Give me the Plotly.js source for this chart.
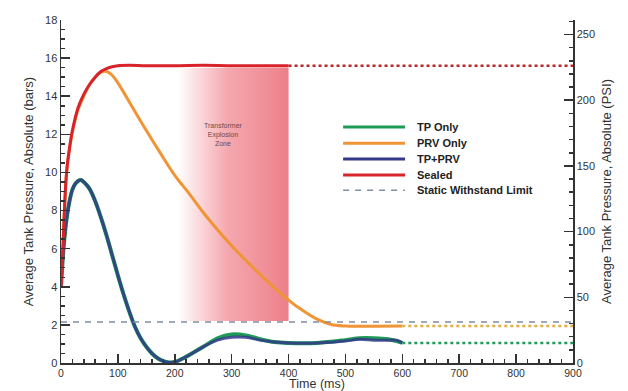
<!DOCTYPE html>
<html>
<head>
<meta charset="utf-8">
<script src="https://cdn.plot.ly/plotly-3.0.1.min.js"></script>
<style>
  html, body { margin: 0; padding: 0; background: #fff; }
  #chart { width: 628px; height: 391px; }
</style>
</head>
<body>
<div id="chart"></div>
<script>
// Time axis (ms) for each simulated configuration
const tSealed = [0, 3, 6, 10, 15, 20, 30, 40, 50, 60, 70, 80, 90, 100, 120, 150, 200, 250, 300, 350, 400];
const pSealed = [4.0, 5.7, 8.0, 10.1, 11.3, 12.2, 13.4, 14.1, 14.6, 15.0, 15.3, 15.45, 15.55, 15.6, 15.62, 15.6, 15.6, 15.62, 15.6, 15.6, 15.6];

const tPrv = [0, 3, 6, 10, 15, 20, 30, 40, 50, 60, 70, 80, 90, 100, 125, 150, 175, 200, 225, 250, 300, 350, 400, 425, 450, 475, 500, 550, 600];
const pPrv = [4.0, 5.7, 8.0, 10.0, 11.2, 12.1, 13.3, 14.0, 14.6, 15.0, 15.25, 15.3, 15.1, 14.7, 13.45, 12.2, 11.0, 9.85, 8.9, 7.9, 6.15, 4.65, 3.3, 2.75, 2.3, 2.02, 1.94, 1.93, 1.94];

const tTp = [0, 5, 10, 15, 20, 25, 30, 35, 40, 50, 60, 70, 80, 90, 100, 110, 120, 130, 140, 150, 160, 170, 180, 190, 200, 215, 230, 250, 275, 300, 325, 350, 375, 400, 450, 500, 525, 550, 575, 590, 600];
const pTpOnly = [4.0, 6.2, 7.6, 8.5, 9.1, 9.4, 9.55, 9.6, 9.5, 9.15, 8.5, 7.65, 6.7, 5.65, 4.6, 3.6, 2.7, 1.9, 1.3, 0.85, 0.5, 0.25, 0.1, 0.03, 0.05, 0.25, 0.5, 0.85, 1.3, 1.5, 1.45, 1.25, 1.1, 1.05, 1.05, 1.2, 1.3, 1.3, 1.25, 1.15, 1.05];
const pTpPrv  = [4.0, 6.2, 7.6, 8.5, 9.1, 9.4, 9.55, 9.6, 9.5, 9.15, 8.5, 7.65, 6.7, 5.65, 4.6, 3.6, 2.7, 1.9, 1.3, 0.85, 0.5, 0.25, 0.1, 0.03, 0.05, 0.25, 0.5, 0.85, 1.2, 1.35, 1.35, 1.2, 1.1, 1.05, 1.05, 1.15, 1.25, 1.2, 1.2, 1.2, 1.05];

// Steady-state extrapolations (dotted)
const tSealedExt = [400, 900];
const pSealedExt = [15.6, 15.6];
const tPrvExt = [600, 900];
const pPrvExt = [1.94, 1.94];
const tTpExt = [600, 900];
const pTpExt = [1.05, 1.05];

// Static withstand limit of the tank
const tLimit = [0, 900];
const pLimit = [2.15, 2.15];

// Transformer explosion zone bounds
const zoneT = [205, 400];
const zoneP = [2.2, 15.5];
const zoneLabel = 'Transformer<br>Explosion<br>Zone';

// Legend entries
const legendNames = ['TP Only', 'PRV Only', 'TP+PRV', 'Sealed', 'Static Withstand Limit'];

const BAR_TO_PSI = 14.5038;
const yMax = 18;
const FONT = 'Liberation Sans, Arial, sans-serif';

const C = {
  tp: '#1f9b58',
  prv: '#f09435',
  tpprv: '#34398a',
  sealed: '#d8232a',
  limit: '#7f8fa3'
};
const legendColors = [C.tp, C.prv, C.tpprv, C.sealed, C.limit];

const traces = [
  {
    x: [zoneT[0], zoneT[1], zoneT[1], zoneT[0], zoneT[0]],
    y: [zoneP[0], zoneP[0], zoneP[1], zoneP[1], zoneP[0]],
    mode: 'lines', fill: 'toself', line: {width: 0},
    fillgradient: {
      type: 'horizontal',
      colorscale: [
        [0, 'rgba(240,130,140,0)'],
        [0.45, 'rgba(240,130,140,0.7)'],
        [1, 'rgba(236,120,130,0.95)']
      ]
    },
    hoverinfo: 'skip'
  },
  {x: tTp, y: pTpOnly, name: legendNames[0], mode: 'lines', line: {color: C.tp, width: 4, shape: 'spline'}},
  {x: tPrv, y: pPrv, name: legendNames[1], mode: 'lines', line: {color: C.prv, width: 3, shape: 'spline'}},
  {x: tTp, y: pTpPrv, name: legendNames[2], mode: 'lines', opacity: 0.85, line: {color: C.tpprv, width: 3, shape: 'spline'}},
  {x: tSealed, y: pSealed, name: legendNames[3], mode: 'lines', line: {color: C.sealed, width: 3, shape: 'spline'}},
  {x: tLimit, y: pLimit, name: legendNames[4], mode: 'lines', line: {color: C.limit, width: 1.5, dash: '6px,6px'}},
  {x: tSealedExt, y: pSealedExt, mode: 'lines', line: {color: '#b8262a', width: 2.5, dash: 'dot'}},
  {x: tPrvExt, y: pPrvExt, mode: 'lines', line: {color: '#e0b040', width: 2.5, dash: 'dot'}},
  {x: tTpExt, y: pTpExt, mode: 'lines', line: {color: C.tp, width: 2.5, dash: 'dot'}},
  // invisible point on the PSI axis so the secondary axis is drawn
  {x: [0], y: [0], yaxis: 'y2', mode: 'markers', marker: {opacity: 0}, hoverinfo: 'skip'}
];

const axisCommon = {
  showgrid: false, zeroline: false, showline: true,
  linecolor: '#333', linewidth: 1.5,
  ticks: 'inside', ticklen: 9, tickwidth: 1.5, tickcolor: '#333',
  tickfont: {family: FONT, size: 11, color: '#333'}
};
const titleFont = {family: FONT, size: 13, color: '#333'};

// Hand-drawn legend block: key lines and labels in paper coordinates
const legX0 = 0.551, legX1 = 0.672, legTextX = 0.691;
const legY = [0.688, 0.641, 0.595, 0.548, 0.504];
const legendShapes = legendNames.map((n, i) => ({
  type: 'line', xref: 'paper', yref: 'paper',
  x0: legX0, x1: legX1, y0: legY[i], y1: legY[i],
  line: {color: legendColors[i], width: i === 4 ? 1.5 : 3, dash: i === 4 ? '6px,6px' : 'solid'}
}));
const legendLabels = legendNames.map((n, i) => ({
  xref: 'paper', yref: 'paper', x: legTextX, y: legY[i],
  xanchor: 'left', yanchor: 'middle', showarrow: false, text: '<b>' + n + '</b>',
  font: {family: FONT, size: 11, color: '#222'}
}));

const layout = {
  width: 628, height: 391,
  margin: {l: 61, r: 55, t: 20, b: 28},
  paper_bgcolor: '#fff', plot_bgcolor: '#fff',
  font: {family: FONT, color: '#333'},
  showlegend: false,
  xaxis: Object.assign({}, axisCommon, {
    range: [0, 900], dtick: 100,
    tickfont: {family: FONT, size: 10.5, color: '#333'},
    minor: {dtick: 20, ticks: 'inside', ticklen: 4, tickcolor: '#333'},
    title: {text: 'Time (ms)', standoff: 0, font: {family: FONT, size: 12.5, color: '#333'}}
  }),
  yaxis: Object.assign({}, axisCommon, {
    range: [0, yMax], dtick: 2,
    minor: {dtick: 0.5, ticks: 'inside', ticklen: 4, tickcolor: '#333'},
    title: {text: 'Average Tank Pressure, Absolute (bars)', standoff: 8, font: titleFont}
  }),
  yaxis2: Object.assign({}, axisCommon, {
    overlaying: 'y', side: 'right', anchor: 'x',
    range: [0, yMax * BAR_TO_PSI], dtick: 50,
    minor: {dtick: 10, ticks: 'inside', ticklen: 4, tickcolor: '#333'},
    title: {text: 'Average Tank Pressure, Absolute (PSI)', standoff: 8, font: titleFont}
  }),
  shapes: legendShapes,
  annotations: [{
    x: 285, y: 12, xref: 'x', yref: 'y', text: zoneLabel, showarrow: false,
    font: {family: FONT, size: 7, color: '#6a4a50'}
  }].concat(legendLabels)
};

Plotly.newPlot('chart', traces, layout, {displayModeBar: false, staticPlot: true});
</script>
</body>
</html>
